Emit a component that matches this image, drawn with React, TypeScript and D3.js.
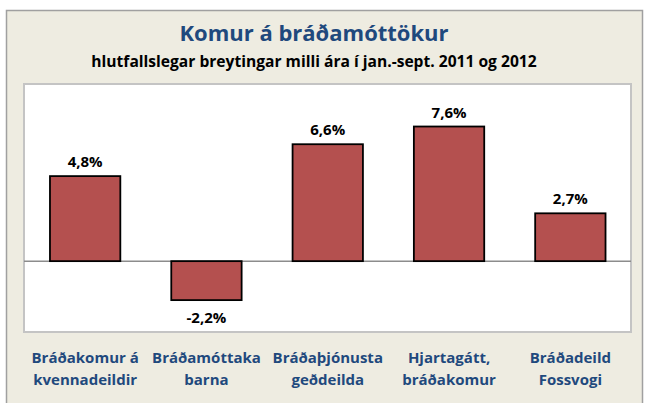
import React from "react";
import * as d3 from "d3";

const categories: string[][] = [
  ["Bráðakomur á", "kvennadeildir"],
  ["Bráðamóttaka", "barna"],
  ["Bráðaþjónusta", "geðdeilda"],
  ["Hjartagátt,", "bráðakomur"],
  ["Bráðadeild", "Fossvogi"],
];
const values: number[] = [4.8, -2.2, 6.6, 7.6, 2.7];
const valueLabels: string[] = ["4,8%", "-2,2%", "6,6%", "7,6%", "2,7%"];
const title = "Komur á bráðamóttökur";
const subtitle = "hlutfallslegar breytingar milli ára í jan.-sept. 2011 og 2012";

const W = 651;
const H = 403;
const plot = { left: 24, top: 84, right: 631, bottom: 332 };
const FONT = "'Open Sans', Lato, sans-serif";
const BLUE = "#1F497D";

export default function App() {
  const x = d3
    .scaleBand<number>()
    .domain(values.map((_, i) => i))
    .range([plot.left + 0.5, plot.right])
    .paddingInner(0.42)
    .paddingOuter(0.21);
  const y = d3.scaleLinear().domain([-4, 10]).range([plot.bottom, plot.top]);
  const y0 = y(0);

  return (
    <svg
      width={W}
      height={H}
      style={{ position: "absolute", left: 0, top: 0, display: "block" }}
      fontFamily={FONT}
    >
      <rect x={0} y={0} width={W} height={H} fill="#ffffff" />
      <rect x={6.5} y={10.5} width={636} height={420} fill="#EEECE1" stroke="#A0A0A0" strokeWidth={1.5} />
      <text x={314} y={41} textAnchor="middle" fontSize={22} fontWeight={700} fill={BLUE}>
        {title}
      </text>
      <text x={314} y={67} textAnchor="middle" fontSize={15.6} fontWeight={700} fill="#000">
        {subtitle}
      </text>
      <rect
        x={plot.left}
        y={plot.top}
        width={plot.right - plot.left}
        height={plot.bottom - plot.top}
        fill="#ffffff"
        stroke="#C4C4C4"
        strokeWidth={2}
      />
      <line x1={plot.left} x2={plot.right} y1={y0} y2={y0} stroke="#8C8C8C" strokeWidth={1.5} />
      {values.map((v, i) => {
        const bx = x(i)!;
        const bw = x.bandwidth();
        const top = Math.min(y(v), y0);
        const h = Math.abs(y(v) - y0);
        const cx = bx + bw / 2;
        const ly = v >= 0 ? y(v) - 9 : y(v) + 23;
        return (
          <g key={i}>
            <rect x={bx} y={top} width={bw} height={h} fill="#B4504F" stroke="#000" strokeWidth={1.8} />
            <text x={cx} y={ly} textAnchor="middle" fontSize={15} fontWeight={700} fill="#000">
              {valueLabels[i]}
            </text>
            {categories[i].map((line, j) => (
              <text
                key={j}
                x={cx}
                y={363 + j * 21.5}
                textAnchor="middle"
                fontSize={15}
                fontWeight={700}
                fill={BLUE}
              >
                {line}
              </text>
            ))}
          </g>
        );
      })}
    </svg>
  );
}
